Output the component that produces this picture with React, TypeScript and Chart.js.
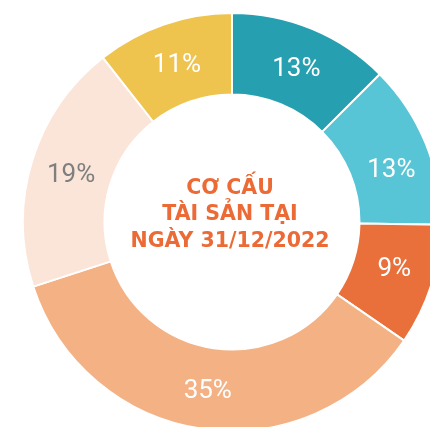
import React, { useEffect, useRef } from "react";
import { Chart, registerables } from "chart.js";

Chart.register(...registerables);

// ---- data ----
const categories = ["Nhóm 1", "Nhóm 2", "Nhóm 3", "Nhóm 4", "Nhóm 5", "Nhóm 6"];
// slice sizes as read from the arcs (unrounded)
const shares = [12.5, 12.7, 9.4, 35.4, 19.4, 10.6];
// percentages printed on the slices
const percentLabels = ["13%", "13%", "9%", "35%", "19%", "11%"];
const segmentColors = ["#26A0B0", "#57C5D5", "#E9703A", "#F4B183", "#FBE4D8", "#EEC44E"];
const labelColors = ["#FFFFFF", "#FFFFFF", "#FFFFFF", "#FFFFFF", "#7F7F7F", "#FFFFFF"];
const titleLines = ["CƠ CẤU", "TÀI SẢN TẠI", "NGÀY 31/12/2022"];

const sliceLabels = {
  id: "sliceLabels",
  afterDatasetsDraw(chart: any, _args: any, opts: any) {
    const ctx = chart.ctx;
    const meta = chart.getDatasetMeta(0);
    const anchors: number[] = (opts && opts.anchors) || [];
    ctx.save();
    ctx.font = "400 26px Roboto";
    ctx.textAlign = "center";
    ctx.textBaseline = "alphabetic";
    meta.data.forEach((arc: any, i: number) => {
      const p = arc.getProps(["x", "y", "startAngle", "endAngle", "innerRadius", "outerRadius"], true);
      const f = anchors[i] ?? 0.5;
      const a = p.startAngle + (p.endAngle - p.startAngle) * f;
      const r = (p.innerRadius + p.outerRadius) / 2;
      const x = p.x + r * Math.cos(a);
      const y = p.y + r * Math.sin(a);
      ctx.fillStyle = labelColors[i];
      ctx.fillText(percentLabels[i], x, y + 9.2);
    });
    ctx.restore();
  },
};

const centerTitle = {
  id: "centerTitle",
  afterDraw(chart: any) {
    const ctx = chart.ctx;
    const arc = chart.getDatasetMeta(0).data[0];
    if (!arc) return;
    const cx = arc.x - 2;
    const cy = arc.y - 9;
    ctx.save();
    ctx.font = "700 20.5px 'DejaVu Sans'";
    ctx.fillStyle = "#EC6A35";
    ctx.textAlign = "center";
    ctx.textBaseline = "alphabetic";
    const lh = 26.3;
    titleLines.forEach((t, i) => {
      const y = cy + (i - (titleLines.length - 1) / 2) * lh;
      ctx.fillText(t, cx, y + 7.4);
    });
    ctx.restore();
  },
};

export default function App() {
  const ref = useRef<HTMLCanvasElement | null>(null);
  useEffect(() => {
    if (!ref.current) return;
    const chart = new Chart(ref.current, {
      type: "doughnut",
      data: {
        labels: categories,
        datasets: [
          {
            data: shares,
            backgroundColor: segmentColors,
            borderColor: "#FFFFFF",
            borderWidth: 2,
            hoverOffset: 0,
          },
        ],
      },
      options: {
        responsive: false,
        maintainAspectRatio: false,
        animation: false,
        cutout: "61%",
        layout: { padding: 0 },
        plugins: {
          legend: { display: false },
          tooltip: { enabled: false },
          sliceLabels: { anchors: [0.5, 0.575, 0.43, 0.5, 0.5, 0.5] },
        } as any,
      },
      plugins: [sliceLabels, centerTitle],
    });
    return () => chart.destroy();
  }, []);
  return (
    <div
      style={{
        position: "fixed",
        left: 0,
        top: 0,
        width: 430,
        height: 427,
        overflow: "hidden",
        background: "#FFFFFF",
      }}
    >
      <canvas
        ref={ref}
        width={420}
        height={420}
        style={{ position: "absolute", left: 21.5, top: 12, width: 420, height: 420 }}
      />
    </div>
  );
}
